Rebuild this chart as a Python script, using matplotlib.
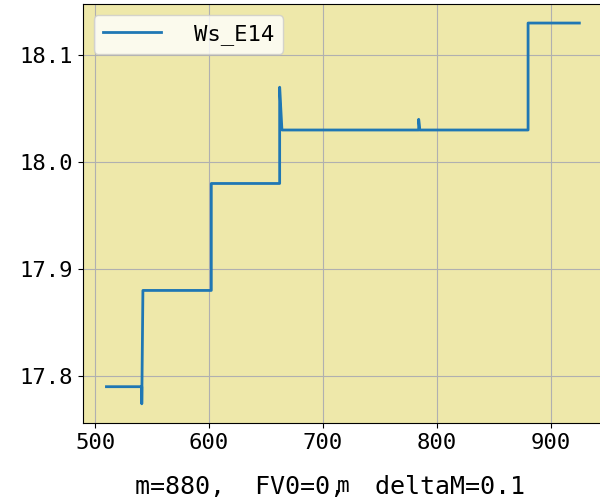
import matplotlib
matplotlib.use("Agg")
import matplotlib.pyplot as plt

plt.rcParams['font.family'] = ['DejaVu Sans Mono', 'Noto Sans CJK SC']
plt.rcParams['axes.unicode_minus'] = False

# step trace
m_vals = [510, 540, 541, 541, 542, 602, 602, 662, 662, 664, 784, 784, 785, 880, 880, 925]
ws_vals = [17.79, 17.79, 17.79, 17.774, 17.88, 17.88, 17.98, 17.98, 18.07, 18.03,
           18.03, 18.04, 18.03, 18.03, 18.13, 18.13]
x_ticks = [500, 600, 700, 800, 900]
y_ticks = [17.8, 17.9, 18.0, 18.1]

def main():
    fig = plt.figure(figsize=(6, 5.01), dpi=100)
    ax = fig.add_axes([0.138, 0.156, 0.867, 0.836])
    ax.set_facecolor('#eee8aa')
    ax.plot(m_vals, ws_vals, color='#1f77b4', lw=2, label='Ws_E14')
    ax.set_xticks(x_ticks)
    ax.set_yticks(y_ticks)
    ax.set_yticklabels([f"{v:.1f}" for v in y_ticks])
    ax.tick_params(labelsize=16)
    ax.grid(True)
    ax.legend(loc='upper left', fontsize=16, handlelength=2.6, handletextpad=1.5)
    # the x label sits on top of the parameter caption, as in the original
    ax.set_xlabel('m', fontsize=15, labelpad=17)
    fig.text(0.55, 0.028, 'm=880,  FV0=0,  deltaM=0.1', ha='center', va='center', fontsize=18)
    fig.savefig('out.png', dpi=100)

if __name__ == "__main__":
    main()
